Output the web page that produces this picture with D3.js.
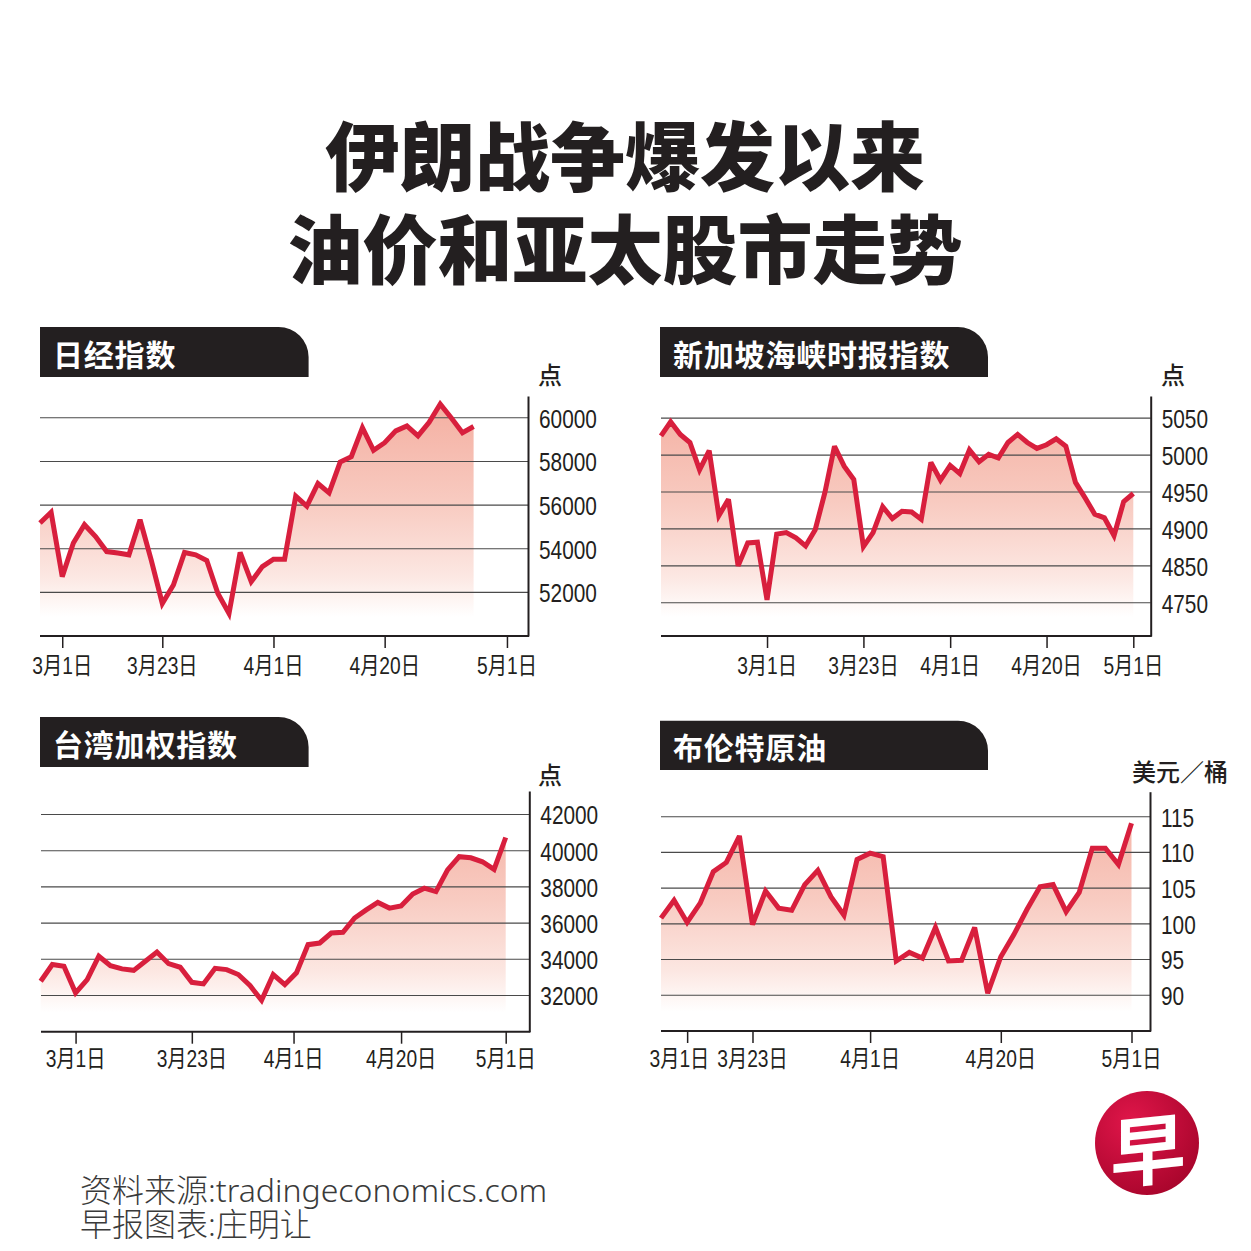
<!DOCTYPE html>
<html><head><meta charset="utf-8">
<script src="https://cdn.jsdelivr.net/npm/d3@7"></script>
<style>
html,body{margin:0;padding:0;background:#fff;}
svg{display:block;}
</style></head><body>
<svg id="c" width="1251" height="1251"></svg>
<script>
// ---------------- DATA ----------------
const titleLines = ["伊朗战争爆发以来", "油价和亚太股市走势"];
const dateLabels = ["3月1日", "3月23日", "4月1日", "4月20日", "5月1日"];

const nikkeiTitle = "日经指数";
const nikkeiUnit = "点";
const nikkeiValues = [55180,55670,52720,54260,55100,54560,53870,53800,53720,55330,
  53490,51490,52340,53830,53720,53460,51950,51030,53830,52490,
  53180,53520,53520,56410,55950,56990,56560,57970,58220,59550,
  58510,58860,59400,59630,59170,59790,60630,59990,59320,59600];
const nikkeiTickIdx = [2, 11, 21, 31, 42];
const nikkeiYTicks = [60000, 58000, 56000, 54000, 52000];
const nikkeiYLabels = ["60000", "58000", "56000", "54000", "52000"];

const stiTitle = "新加坡海峡时报指数";
const stiUnit = "点";
const stiValues = [5026,5045,5028,5017,4980,5006,4918,4940,4850,4881,
  4882,4804,4893,4895,4888,4877,4899,4949,5012,4985,
  4967,4876,4895,4930,4914,4924,4923,4913,4990,4966,
  4986,4975,5007,4991,5001,4996,5017,5028,5017,5009,
  5014,5022,5012,4963,4942,4920,4915,4891,4937,4948];
const stiTickIdx = [11, 21, 30, 40, 49];
const stiYTicks = [5050, 5000, 4950, 4900, 4850, 4800];
const stiYLabels = ["5050", "5000", "4950", "4900", "4850", "4750"];

const taiexTitle = "台湾加权指数";
const taiexUnit = "点";
const taiexValues = [32790,33710,33610,32150,32880,34170,33650,33470,33390,33890,
  34400,33760,33560,32730,32640,33500,33430,33160,32550,31740,
  33160,32600,33250,34810,34900,35450,35490,36280,36730,37140,
  36830,36950,37610,37930,37740,38940,39670,39610,39390,38970,
  40730];
const taiexTickIdx = [3, 13, 21.75, 31, 40];
const taiexYTicks = [42000, 40000, 38000, 36000, 34000, 32000];
const taiexYLabels = ["42000", "40000", "38000", "36000", "34000", "32000"];

const brentTitle = "布伦特原油";
const brentUnit = "美元／桶";
const brentValues = [100.8,103.3,100.2,102.9,107.3,108.6,112.3,99.9,104.6,102.2,
  101.9,105.5,107.5,103.8,101.2,109.0,109.9,109.4,94.8,96.0,
  95.2,99.5,94.8,94.9,99.5,90.3,95.4,98.5,102.0,105.2,
  105.5,101.7,104.4,110.6,110.6,108.3,114.1];
const brentTickIdx = [2, 7, 16, 26, 36];
const brentYTicks = [115, 110, 105, 100, 95, 90];
const brentYLabels = ["115", "110", "105", "100", "95", "90"];

const sourceText = "资料来源:tradingeconomics.com";
const creditText = "早报图表:庄明让";
const logoChar = "早";

// ---------------- LAYOUT ----------------
const panels = [
  {title: nikkeiTitle, unit: nikkeiUnit, values: nikkeiValues, tickIdx: nikkeiTickIdx, yTicks: nikkeiYTicks, yLabels: nikkeiYLabels,
   left: 40, axisX: 528, top: 396, bottom: 636, firstX: 40, lastX: 473.6, yDomain: [50000, 61000],
   hdr: [40, 308.6, 327, 377], unitPos: [550, 373], labelY: 665},
  {title: stiTitle, unit: stiUnit, values: stiValues, tickIdx: stiTickIdx, yTicks: stiYTicks, yLabels: stiYLabels,
   left: 661, axisX: 1150.7, top: 396, bottom: 636, firstX: 661, lastX: 1133.3, yDomain: [4755, 5080],
   hdr: [660, 988, 327, 377], unitPos: [1173, 373], labelY: 665},
  {title: taiexTitle, unit: taiexUnit, values: taiexValues, tickIdx: taiexTickIdx, yTicks: taiexYTicks, yLabels: taiexYLabels,
   left: 41, axisX: 529.3, top: 791, bottom: 1031.7, firstX: 40.7, lastX: 505.7, yDomain: [30000, 43300],
   hdr: [40, 308.6, 717, 767], unitPos: [550, 773], labelY: 1058},
  {title: brentTitle, unit: brentUnit, values: brentValues, tickIdx: brentTickIdx, yTicks: brentYTicks, yLabels: brentYLabels,
   left: 661, axisX: 1150, top: 791.7, bottom: 1031, firstX: 661, lastX: 1131.5, yDomain: [85, 118.5],
   hdr: [660, 988, 720.7, 770], unitPos: [1180, 770], labelY: 1058}
];

const CJK = '"Noto Sans CJK SC","Noto Sans",sans-serif';
const NARROW = '"Liberation Sans Narrow","Arial Narrow","Liberation Sans","Noto Sans CJK SC",sans-serif';
const RED = "#d81f3d";

function condense(sel, factor) {
  sel.each(function() {
    const w = this.getComputedTextLength();
    this.setAttribute("textLength", (w * factor).toFixed(1));
    this.setAttribute("lengthAdjust", "spacingAndGlyphs");
  });
}

const svg = d3.select("#c");
svg.append("rect").attr("width", 1251).attr("height", 1251).attr("fill", "#fff");
const defs = svg.append("defs");

// Title
svg.append("g").selectAll("text").data(titleLines).join("text")
  .attr("x", 625).attr("y", (d, i) => 152 + i * 93)
  .attr("text-anchor", "middle").attr("dominant-baseline", "central")
  .attr("font-family", CJK).attr("font-weight", 900).attr("font-size", 75)
  .attr("fill", "#231f20").text(d => d);

panels.forEach((p, pi) => {
  const g = svg.append("g");
  const x = d3.scaleLinear().domain([0, p.values.length - 1]).range([p.firstX, p.lastX]);
  const y = d3.scaleLinear().domain(p.yDomain).range([p.bottom, p.top]);

  // header
  const [hx0, hx1, hy0, hy1] = p.hdr;
  const r = 30;
  g.append("path")
    .attr("d", `M${hx0},${hy0} H${hx1 - r} A${r},${r} 0 0 1 ${hx1},${hy0 + r} V${hy1} H${hx0} Z`)
    .attr("fill", "#231f20");
  g.append("text").attr("x", hx0 + 13).attr("y", (hy0 + hy1) / 2 + 1)
    .attr("dominant-baseline", "central")
    .attr("font-family", CJK).attr("font-weight", 700).attr("font-size", 30)
    .attr("letter-spacing", 0.8)
    .attr("fill", "#fff").text(p.title);

  // unit
  g.append("text").attr("x", p.unitPos[0]).attr("y", p.unitPos[1])
    .attr("text-anchor", "middle").attr("dominant-baseline", "central")
    .attr("font-family", CJK).attr("font-weight", 500).attr("font-size", 24)
    .attr("fill", "#231f20").text(p.unit);

  // gradient
  const gid = "grad" + pi;
  const lg = defs.append("linearGradient").attr("id", gid)
    .attr("gradientUnits", "userSpaceOnUse")
    .attr("x1", 0).attr("x2", 0).attr("y1", p.top).attr("y2", p.bottom);
  lg.append("stop").attr("offset", "0%").attr("stop-color", "#f4ad9f");
  lg.append("stop").attr("offset", "45%").attr("stop-color", "#f8cbc1");
  lg.append("stop").attr("offset", "75%").attr("stop-color", "#fce7e2");
  lg.append("stop").attr("offset", "92%").attr("stop-color", "#ffffff");

  // area
  const area = d3.area().x((d, i) => x(i)).y0(p.bottom - 4).y1(d => y(d));
  g.append("path").datum(p.values).attr("d", area).attr("fill", `url(#${gid})`);

  // gridlines
  g.append("g").selectAll("line").data(p.yTicks).join("line")
    .attr("x1", p.left).attr("x2", p.axisX)
    .attr("y1", d => y(d)).attr("y2", d => y(d))
    .attr("stroke", "#4a4a4a").attr("stroke-width", 1.1);

  // line
  const line = d3.line().x((d, i) => x(i)).y(d => y(d));
  g.append("path").datum(p.values).attr("d", line)
    .attr("fill", "none").attr("stroke", RED).attr("stroke-width", 5)
    .attr("stroke-linejoin", "miter").attr("stroke-miterlimit", 3);

  // y axis
  const yAxis = d3.axisRight(y).tickValues(p.yTicks)
    .tickFormat((d, i) => p.yLabels[i]).tickSize(0).tickSizeOuter(0).tickPadding(11);
  const ya = g.append("g").attr("transform", `translate(${p.axisX},0)`).call(yAxis);
  ya.select(".domain").attr("stroke", "#231f20").attr("stroke-width", 2);
  const yt = ya.selectAll("text").attr("font-family", NARROW).attr("font-size", 26)
    .attr("fill", "#231f20").attr("dy", "0.36em");
  condense(yt, 0.8);

  // x axis
  g.append("line").attr("x1", p.left).attr("x2", p.axisX + 1)
    .attr("y1", p.bottom).attr("y2", p.bottom)
    .attr("stroke", "#231f20").attr("stroke-width", 2);
  const xAxis = d3.axisBottom(x).tickValues(p.tickIdx).tickFormat("").tickSize(12).tickSizeOuter(0);
  const xa = g.append("g").attr("transform", `translate(0,${p.bottom})`).call(xAxis);
  xa.select(".domain").remove();
  xa.selectAll("line").attr("stroke", "#231f20").attr("stroke-width", 1.5);

  const labels = g.append("g").selectAll("text").data(p.tickIdx).join("text")
    .attr("x", d => x(d)).attr("y", p.labelY)
    .attr("text-anchor", "middle").attr("dominant-baseline", "central")
    .attr("font-family", NARROW).attr("font-size", 24).attr("fill", "#231f20")
    .text((d, i) => dateLabels[i]);
  condense(labels, 0.8);
  // avoid overlap: shift earlier labels left if needed
  const nodes = labels.nodes();
  for (let i = nodes.length - 2; i >= 0; i--) {
    const a = nodes[i].getBBox(), b = nodes[i + 1].getBBox();
    const overlap = a.x + a.width + 8 - b.x;
    if (overlap > 0) nodes[i].setAttribute("x", +nodes[i].getAttribute("x") - overlap);
  }
});

// footer
svg.append("g").selectAll("text").data([sourceText, creditText]).join("text")
  .attr("x", 80).attr("y", (d, i) => 1189 + i * 34)
  .attr("dominant-baseline", "central")
  .attr("font-family", '"Noto Sans","Noto Sans CJK SC",sans-serif').attr("font-weight", 300).attr("font-size", 32)
  .attr("fill", "#3a3a3a").text(d => d);

// logo
const rg = defs.append("radialGradient").attr("id", "logoGrad")
  .attr("cx", "35%").attr("cy", "30%").attr("r", "75%");
rg.append("stop").attr("offset", "0%").attr("stop-color", "#e0164a");
rg.append("stop").attr("offset", "100%").attr("stop-color", "#a9052c");
svg.append("circle").attr("cx", 1147).attr("cy", 1143).attr("r", 52).attr("fill", "url(#logoGrad)");
svg.append("text").attr("x", 0).attr("y", 0)
  .attr("text-anchor", "middle").attr("dominant-baseline", "central")
  .attr("font-family", CJK).attr("font-weight", 700).attr("font-size", 76)
  .attr("fill", "#fff").attr("transform", "translate(1148,1146) rotate(-6) skewX(-6)")
  .text(logoChar);
</script>
</body></html>
